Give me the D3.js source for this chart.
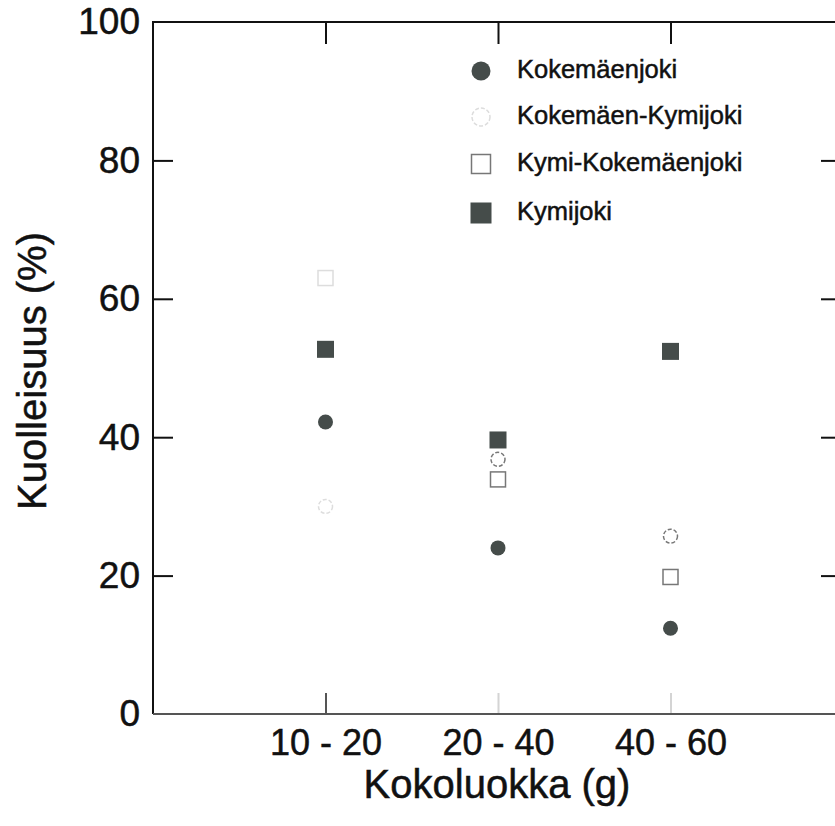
<!DOCTYPE html>
<html>
<head>
<meta charset="utf-8">
<script src="https://cdn.jsdelivr.net/npm/d3@7"></script>
<style>
  body { margin: 0; background: #fff; }
  text { font-family: "Liberation Sans", Arial, sans-serif; fill: #111; stroke: #111; stroke-width: 0.5px; }
</style>
</head>
<body>
<svg id="chart" width="835" height="826"></svg>
<script>
// categories and series
var categories = ["10 - 20", "20 - 40", "40 - 60"];
var seriesNames = ["Kokemäenjoki", "Kokemäen-Kymijoki", "Kymi-Kokemäenjoki", "Kymijoki"];
var kokemaenjoki = [42.2, 24.0, 12.4];
var kokemaenKymijoki = [30.0, 36.8, 25.7];
var kymiKokemaenjoki = [63.0, 33.9, 19.8];
var kymijoki = [52.7, 39.6, 52.4];
var yTicks = [0, 20, 40, 60, 80, 100];

var svg = d3.select('#chart');
var pLeft = 153, pTop = 22, pBottom = 714, pRight = 843;

var x = d3.scaleLinear().domain([0, 4]).range([pLeft, pRight]);
var y = d3.scaleLinear().domain([0, 100]).range([pBottom, pTop]);

// frame
svg.append('line').attr('x1', pLeft).attr('x2', pRight).attr('y1', pTop).attr('y2', pTop)
    .attr('stroke', '#111').attr('stroke-width', 2);
svg.append('line').attr('x1', pLeft).attr('x2', pLeft).attr('y1', pTop - 1).attr('y2', pBottom)
    .attr('stroke', '#111').attr('stroke-width', 2);
svg.append('line').attr('x1', pLeft).attr('x2', pRight).attr('y1', pBottom).attr('y2', pBottom)
    .attr('stroke', '#555').attr('stroke-width', 2);
svg.append('line').attr('x1', pRight).attr('x2', pRight).attr('y1', pTop).attr('y2', pBottom)
    .attr('stroke', '#111').attr('stroke-width', 2);

// left axis, ticks inward
var yAxis = d3.axisLeft(y).tickValues(yTicks).tickSize(-20).tickPadding(13);
var gy = svg.append('g').attr('transform', 'translate(' + pLeft + ',0)').call(yAxis);
gy.select('.domain').remove();
gy.selectAll('.tick line').attr('stroke', '#111').attr('stroke-width', 2)
    .attr('display', function (d) { return (d === 0 || d === 100) ? 'none' : null; });
gy.selectAll('.tick text').attr('font-size', 37).attr('fill', '#111')
    .attr('font-family', '"Liberation Sans", Arial, sans-serif');

// right axis ticks inward
var gr = svg.append('g').attr('transform', 'translate(' + pRight + ',0)')
    .call(d3.axisRight(y).tickValues([20, 40, 60, 80]).tickSize(-22).tickFormat(''));
gr.select('.domain').remove();
gr.selectAll('.tick line').attr('stroke', '#111').attr('stroke-width', 2);

// bottom axis
var catIdx = [1, 2, 3];
var xAxis = d3.axisBottom(x).tickValues(catIdx)
    .tickFormat(function (d) { return categories[d - 1]; })
    .tickSize(-21).tickPadding(15);
var gx = svg.append('g').attr('transform', 'translate(0,' + pBottom + ')').call(xAxis);
gx.select('.domain').remove();
gx.selectAll('.tick line').attr('stroke', '#555').attr('stroke-width', 2)
    .attr('opacity', function (d) { return d === 1 ? 1 : 0.25; });
gx.selectAll('.tick text').attr('font-size', 36).attr('fill', '#111')
    .attr('font-family', '"Liberation Sans", Arial, sans-serif');

// top ticks
var gt = svg.append('g').attr('transform', 'translate(0,' + pTop + ')')
    .call(d3.axisTop(x).tickValues(catIdx).tickSize(-22).tickFormat(''));
gt.select('.domain').remove();
gt.selectAll('.tick line').attr('stroke', '#111').attr('stroke-width', 2);

// axis titles
svg.append('text').attr('x', 497).attr('y', 798).attr('text-anchor', 'middle')
    .attr('font-size', 40).text('Kokoluokka (g)');
svg.append('text').attr('transform', 'translate(46,371) rotate(-90)')
    .attr('text-anchor', 'middle').attr('font-size', 40).text('Kuolleisuus (%)');

// markers
var dark = '#454c4a';
function drawMarker(g, kind, cx, cy, sz, faint) {
    var stroke = faint ? '#ddd' : '#777';
    var h = sz / 2;
    if (kind === 0) {
        g.append('circle').attr('cx', cx).attr('cy', cy).attr('r', h).attr('fill', dark);
    } else if (kind === 1) {
        g.append('circle').attr('cx', cx).attr('cy', cy).attr('r', h - 0.5)
            .attr('fill', 'none').attr('stroke', stroke).attr('stroke-width', 1.5)
            .attr('stroke-dasharray', '4,2');
    } else if (kind === 2) {
        g.append('rect').attr('x', cx - h).attr('y', cy - h).attr('width', sz).attr('height', sz)
            .attr('fill', 'none').attr('stroke', stroke).attr('stroke-width', 1.5);
    } else {
        g.append('rect').attr('x', cx - h - 1).attr('y', cy - h - 1).attr('width', sz + 2).attr('height', sz + 2)
            .attr('fill', dark);
    }
}

var series = [kokemaenjoki, kokemaenKymijoki, kymiKokemaenjoki, kymijoki];
var pts = svg.append('g');
series.forEach(function (vals, s) {
    vals.forEach(function (v, i) {
        drawMarker(pts, s, x(i + 1), y(v), 15, i === 0 && (s === 1 || s === 2));
    });
});

// legend
var legY = [71, 117, 164, 213];
var leg = svg.append('g');
seriesNames.forEach(function (name, s) {
    drawMarker(leg, s, 481, legY[s], 19, s === 1);
    leg.append('text').attr('x', 517).attr('y', legY[s] + 7).attr('font-size', 25.5).text(name);
});
</script>
</body>
</html>
